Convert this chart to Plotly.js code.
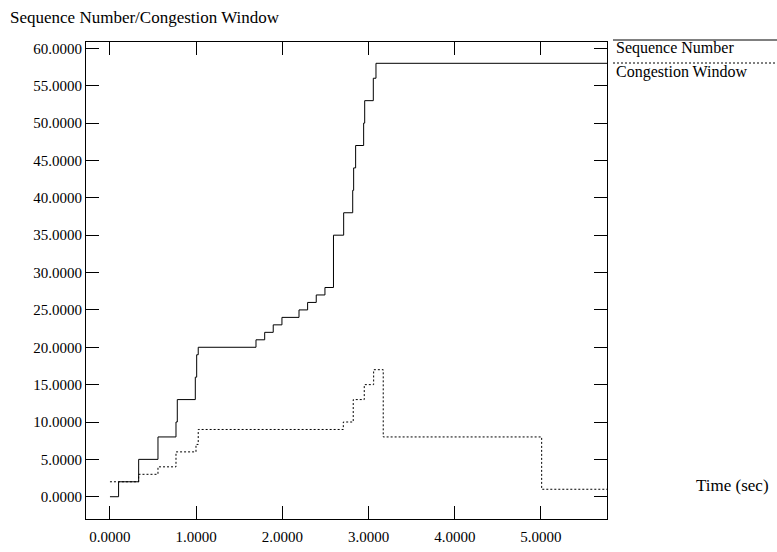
<!DOCTYPE html>
<html>
<head>
<meta charset="utf-8">
<script src="https://cdn.plot.ly/plotly-3.0.1.min.js"></script>
<style>
  html, body { margin: 0; padding: 0; background: #fff; }
  #chart { width: 777px; height: 552px; }
</style>
</head>
<body>
<div id="chart"></div>
<script>
// TCP trace: sequence number and congestion window over time (step plots)
const seqTime  = [0, 0.10, 0.333, 0.557, 0.766, 0.781, 0.99, 1.006, 1.024, 1.694, 1.795, 1.894, 1.995,
                  2.193, 2.293, 2.393, 2.494, 2.593, 2.711, 2.816, 2.827, 2.85, 2.943, 2.955, 3.055, 3.086, 5.8];
const seqValue = [0, 2, 5, 8, 10, 13, 16, 19, 20, 21, 22, 23, 24,
                  25, 26, 27, 28, 35, 38, 41, 44, 47, 50, 53, 56, 58, 58];

const cwndTime  = [0, 0.333, 0.557, 0.766, 0.998, 1.024, 2.707, 2.822, 2.95, 3.059, 3.17, 5.008, 5.8];
const cwndValue = [2, 3, 4, 6, 7, 9, 10, 13, 15, 17, 8, 1, 1];

const xTicks = [0, 1, 2, 3, 4, 5];
const yTicks = [0, 5, 10, 15, 20, 25, 30, 35, 40, 45, 50, 55, 60];

const seriesNames = ['Sequence Number', 'Congestion Window'];

const serif = 'Liberation Serif, Times New Roman, serif';

const axisStyle = {
  showgrid: false,
  zeroline: false,
  showline: true,
  linecolor: '#000',
  linewidth: 1,
  mirror: 'allticks',
  ticks: 'inside',
  ticklen: 13,
  tickwidth: 1,
  tickcolor: '#000',
  tickformat: '.4f',
  tickfont: { family: serif, size: 15, color: '#000' },
  fixedrange: true
};

const traces = [
  {
    x: seqTime, y: seqValue, name: seriesNames[0],
    type: 'scatter', mode: 'lines',
    line: { shape: 'hv', color: '#000', width: 1 },
    showlegend: false, hoverinfo: 'skip'
  },
  {
    x: cwndTime, y: cwndValue, name: seriesNames[1],
    type: 'scatter', mode: 'lines',
    line: { shape: 'hv', color: '#000', width: 1, dash: '2px,2px' },
    showlegend: false, hoverinfo: 'skip'
  }
];

// plot area in pixels: left 86, right 607, top 42, bottom 519
const L = 86, R = 607, T = 42, B = 519;
const W = R - L, H = B - T;
const px = v => (v - L) / W;
const py = v => (B - v) / H;

const layout = {
  width: 777,
  height: 552,
  margin: { l: L, r: 777 - R, t: T, b: 552 - B, pad: 0 },
  paper_bgcolor: '#fff',
  plot_bgcolor: '#fff',
  font: { family: serif, size: 15, color: '#000' },
  title: {
    text: 'Sequence Number/Congestion Window',
    xref: 'container', yref: 'container',
    x: 10 / 777, xanchor: 'left',
    y: 1 - 17 / 552, yanchor: 'middle',
    font: { family: serif, size: 17, color: '#000' }
  },
  xaxis: Object.assign({}, axisStyle, { range: [-0.278, 5.766], tickvals: xTicks, ticklabelstandoff: 4 }),
  yaxis: Object.assign({}, axisStyle, { range: [-2.98, 60.85], tickvals: yTicks }),
  showlegend: false,
  shapes: [
    { type: 'line', xref: 'paper', yref: 'paper', x0: px(613), x1: px(777), y0: py(40), y1: py(40),
      line: { color: '#000', width: 1 } },
    { type: 'line', xref: 'paper', yref: 'paper', x0: px(613), x1: px(777), y0: py(63), y1: py(63),
      line: { color: '#000', width: 1, dash: '2px,2px' } }
  ],
  annotations: [
    { text: seriesNames[0], xref: 'paper', yref: 'paper', x: px(614), y: py(48),
      xanchor: 'left', yanchor: 'middle', showarrow: false,
      font: { family: serif, size: 16, color: '#000' } },
    { text: seriesNames[1], xref: 'paper', yref: 'paper', x: px(614), y: py(72),
      xanchor: 'left', yanchor: 'middle', showarrow: false,
      font: { family: serif, size: 16, color: '#000' } },
    { text: 'Time (sec)', xref: 'paper', yref: 'paper', x: px(771), y: py(485),
      xanchor: 'right', yanchor: 'middle', showarrow: false,
      font: { family: serif, size: 17, color: '#000' } }
  ]
};

Plotly.newPlot('chart', traces, layout, { staticPlot: true, displayModeBar: false });
</script>
</body>
</html>
